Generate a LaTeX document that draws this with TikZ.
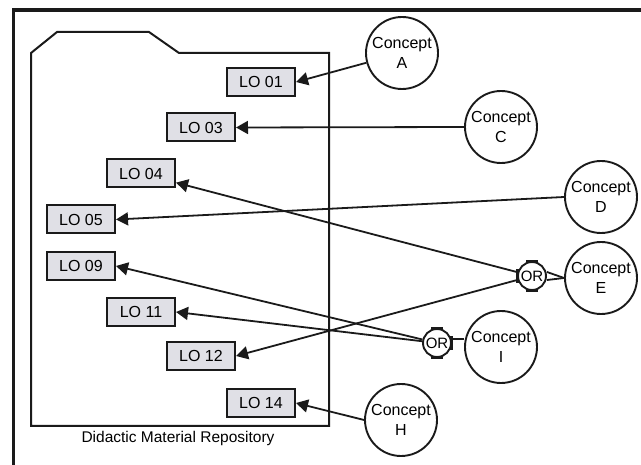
\documentclass[tikz,border=0pt]{standalone}
\usepackage{fontspec}
\setmainfont{Liberation Sans}
\usetikzlibrary{arrows.meta}
\definecolor{lofill}{RGB}{224,224,230}
\definecolor{ink}{RGB}{26,26,26}
\begin{document}
\begin{tikzpicture}[x=1pt,y=-1pt,
  lobox/.style={draw=ink, line width=2pt, fill=lofill, minimum width=68pt, minimum height=28pt, inner sep=0pt, font=\fontsize{16}{18}\selectfont},
  concept/.style={circle, draw=ink, line width=1.9pt, minimum size=72pt, inner sep=0pt, align=center, font=\fontsize{16}{20}\selectfont},
  ornode/.style={circle, draw=ink, line width=1.9pt, minimum size=28pt, inner sep=0pt, font=\fontsize{15}{17}\selectfont},
  orbar/.style={draw=ink, line width=3pt},
  link/.style={draw=ink, line width=1.8pt, -{Triangle[length=12pt,width=13pt]}},
  plainlink/.style={draw=ink, line width=1.8pt},
  frameline/.style={draw=ink, line width=3.8pt},
  folder/.style={draw=ink, line width=2pt},
]
\useasboundingbox (0,0) rectangle (641,465);

% outer frame (left and top edges)
\coordinate (fA) at (13.5,465);
\coordinate (fB) at (13.5,10);
\coordinate (fC) at (641,10);
\draw[frameline] (fA) -- (fB) -- (fC);

% folder
\draw[folder] (31,426) -- (31,53) -- (57,32) -- (149,32) -- (179,53) -- (329,53) -- (329,426) -- cycle;
\node[font=\fontsize{15.5}{17}\selectfont] (repo) at (178,438) {Didactic Material Repository};

% learning objects
\node[lobox] (lo01) at (261,82)    {LO 01};
\node[lobox] (lo03) at (201,127.5) {LO 03};
\node[lobox] (lo04) at (141,173.5) {LO 04};
\node[lobox] (lo05) at (81,219.5)  {LO 05};
\node[lobox] (lo09) at (81,266)    {LO 09};
\node[lobox] (lo11) at (141,312)   {LO 11};
\node[lobox] (lo12) at (201,356)   {LO 12};
\node[lobox] (lo14) at (261,403)   {LO 14};

% concepts
\node[concept] (ca) at (402,53)  {Concept\\A};
\node[concept] (cc) at (501,127) {Concept\\C};
\node[concept] (cd) at (601,197) {Concept\\D};
\node[concept] (ce) at (601,278) {Concept\\E};
\node[concept] (ci) at (501,347) {Concept\\I};
\node[concept] (ch) at (401,420) {Concept\\H};

% OR nodes
\node[ornode] (ore) at (532,276) {OR};
\node[ornode] (ori) at (437,343) {OR};

% OR bars
\draw[orbar] ([xshift=-6pt]ore.north) -- ([xshift=6pt]ore.north);
\draw[orbar] ([xshift=-6pt]ore.south) -- ([xshift=6pt]ore.south);
\draw[orbar] ([yshift=-7pt]ore.west) -- ([yshift=7pt]ore.west);
\draw[orbar] ([xshift=-6pt]ori.north) -- ([xshift=6pt]ori.north);
\draw[orbar] ([xshift=-6pt]ori.south) -- ([xshift=6pt]ori.south);
\draw[orbar] ([yshift=-7pt]ori.east) -- ([yshift=7pt]ori.east);

% connectors
\draw[link] (ca) -- (lo01.east);
\draw[link] (cc.west) -- (lo03.east);
\draw[link] (cd.west) -- (lo05.east);
\draw[link] (ore) -- (lo04);
\draw[link] (ore) -- (lo12.east);
\draw[link] (ori) -- (lo09.east);
\draw[link] (ori) -- (lo11.east);
\draw[link] (ch.west) -- (lo14.east);

\draw[plainlink] ([yshift=-4pt]ore.east) -- (ce.west);
\draw[plainlink] ([yshift=4pt]ore.east) -- (ce.west);
\draw[plainlink] ([yshift=4pt]ori.east) -- ([yshift=4pt]ori.east -| ci.west);
\end{tikzpicture}
\end{document}
